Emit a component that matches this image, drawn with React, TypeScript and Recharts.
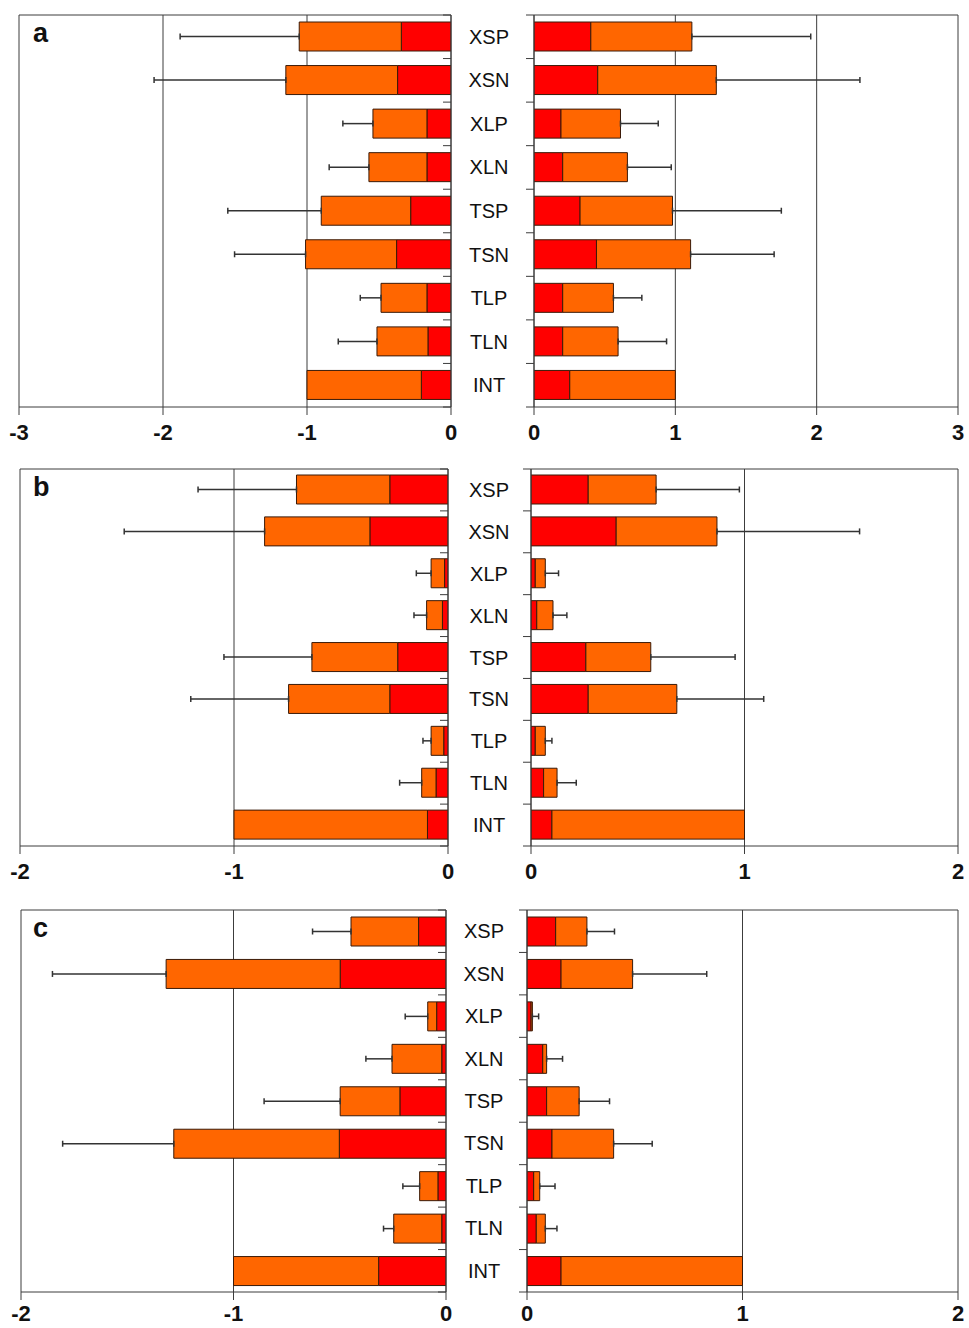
import React from 'react';
import { BarChart, Bar, XAxis, YAxis, CartesianGrid, ErrorBar } from 'recharts';

const categories = ['XSP', 'XSN', 'XLP', 'XLN', 'TSP', 'TSN', 'TLP', 'TLN', 'INT'];

// panel a
const aLeftInner = [0.345, 0.371, 0.167, 0.167, 0.28, 0.378, 0.167, 0.16, 0.206];
const aLeftTotal = [1.054, 1.147, 0.542, 0.57, 0.901, 1.01, 0.486, 0.514, 1.0];
const aLeftError = [1.881, 2.062, 0.751, 0.846, 1.55, 1.503, 0.63, 0.783, null];
const aRightInner = [0.402, 0.451, 0.191, 0.203, 0.326, 0.442, 0.203, 0.203, 0.253];
const aRightTotal = [1.117, 1.29, 0.612, 0.661, 0.98, 1.108, 0.562, 0.595, 1.0];
const aRightError = [1.958, 2.306, 0.879, 0.971, 1.75, 1.699, 0.763, 0.938, null];

// panel b
const bLeftInner = [0.272, 0.365, 0.016, 0.026, 0.235, 0.272, 0.02, 0.056, 0.096];
const bLeftTotal = [0.708, 0.857, 0.079, 0.1, 0.636, 0.745, 0.079, 0.123, 1.0];
const bLeftError = [1.168, 1.513, 0.148, 0.159, 1.047, 1.202, 0.117, 0.226, null];
const bRightInner = [0.268, 0.399, 0.02, 0.027, 0.257, 0.268, 0.02, 0.059, 0.098];
const bRightTotal = [0.586, 0.871, 0.067, 0.103, 0.561, 0.683, 0.067, 0.122, 1.0];
const bRightError = [0.976, 1.539, 0.129, 0.168, 0.956, 1.09, 0.098, 0.212, null];

// panel c
const cLeftInner = [0.129, 0.498, 0.044, 0.02, 0.217, 0.502, 0.038, 0.02, 0.317];
const cLeftTotal = [0.447, 1.317, 0.086, 0.254, 0.498, 1.281, 0.124, 0.246, 1.0];
const cLeftError = [0.628, 1.852, 0.192, 0.377, 0.856, 1.804, 0.203, 0.294, null];
const cRightInner = [0.133, 0.158, 0.019, 0.073, 0.091, 0.116, 0.031, 0.043, 0.158];
const cRightTotal = [0.278, 0.49, 0.025, 0.091, 0.242, 0.402, 0.059, 0.085, 1.0];
const cRightError = [0.406, 0.834, 0.054, 0.165, 0.383, 0.581, 0.13, 0.139, null];

const ticks3Left = [-3, -2, -1, 0];
const ticks3Right = [0, 1, 2, 3];
const ticks2Left = [-2, -1, 0];
const ticks2Right = [0, 1, 2];

const RED = '#ff0000';
const ORANGE = '#ff6600';
const EDGE = '#3a1a08';
const AXIS = '#3c3c3c';
const FONT = 'Arial, "Liberation Sans", sans-serif';

type Row = { name: string; inner: number; outer: number; err: number[] | null };

const buildRows = (
  inner: number[],
  total: number[],
  err: (number | null)[],
  sign: number
): Row[] =>
  categories.map((name, i) => {
    const e = err[i];
    let errVal: number[] | null = null;
    if (e != null) errVal = sign < 0 ? [e - total[i], 0] : [0, e - total[i]];
    return {
      name,
      inner: sign * inner[i],
      outer: sign * (total[i] - inner[i]),
      err: errVal,
    };
  });

const BandTick = (props: any) => {
  const { x, y, index, payload, band, labelShift } = props;
  const half = band / 2;
  return (
    <g>
      <line x1={x - 8} x2={x} y1={y - half} y2={y - half} stroke={AXIS} strokeWidth={1} />
      {index === categories.length - 1 && (
        <line x1={x - 8} x2={x} y1={y + half} y2={y + half} stroke={AXIS} strokeWidth={1} />
      )}
      {labelShift != null && (
        <text
          x={x + labelShift}
          y={y}
          textAnchor="middle"
          dominantBaseline="central"
          fontFamily={FONT}
          fontSize={20}
          fill="#111"
        >
          {payload.value}
        </text>
      )}
    </g>
  );
};

interface HalfProps {
  rows: Row[];
  side: 'left' | 'right';
  ticks: number[];
  left: number;
  width: number;
  height: number;
  margin: { top: number; right: number; bottom: number; left: number };
  axisWidth: number;
  band: number;
  tickGap: number;
  labelShift?: number;
}

const Half: React.FC<HalfProps> = ({ rows, side, ticks, left, width, height, margin, axisWidth, band, tickGap, labelShift }) => {
  const domain = [ticks[0], ticks[ticks.length - 1]];
  return (
    <div style={{ position: 'absolute', left, top: 0 }}>
      <BarChart width={width} height={height} data={rows} layout="vertical" margin={margin} barSize={29}>
        <CartesianGrid
          stroke={AXIS}
          strokeWidth={1}
          horizontalCoordinatesGenerator={(p: any) => [p.offset.top]}
        />
        <XAxis
          type="number"
          domain={domain}
          ticks={ticks}
          allowDataOverflow
          height={30}
          tickSize={8}
          tickMargin={tickGap}
          axisLine={{ stroke: AXIS }}
          tickLine={{ stroke: AXIS }}
          tick={{ fontFamily: FONT, fontSize: 22, fontWeight: 'bold', fill: '#111' }}
        />
        <YAxis
          type="category"
          dataKey="name"
          orientation={side === 'left' ? 'right' : 'left'}
          width={axisWidth}
          interval={0}
          tickSize={0}
          tickMargin={0}
          tickLine={false}
          axisLine={{ stroke: AXIS }}
          tick={(p: any) => <BandTick {...p} band={band} labelShift={labelShift} />}
        />
        <Bar dataKey="inner" stackId="s" fill={RED} stroke={EDGE} strokeWidth={1} isAnimationActive={false} />
        <Bar dataKey="outer" stackId="s" fill={ORANGE} stroke={EDGE} strokeWidth={1} isAnimationActive={false}>
          <ErrorBar dataKey="err" direction="x" width={3} stroke="#333" strokeWidth={1.5} />
        </Bar>
      </BarChart>
    </div>
  );
};

interface PanelProps {
  letter: string;
  top: number;
  height: number;
  leftRows: Row[];
  rightRows: Row[];
  leftTicks: number[];
  rightTicks: number[];
  plotTop: number;
  plotBottom: number;
  leftPlot: [number, number];
  rightPlot: [number, number];
  labelCenter: number;
  tickGap: number;
}

const Panel: React.FC<PanelProps> = ({
  letter, top, height, leftRows, rightRows, leftTicks, rightTicks, plotTop, plotBottom, leftPlot, rightPlot, labelCenter, tickGap,
}) => {
  const band = (plotBottom - plotTop) / categories.length;
  const bottom = height - plotBottom - 30;
  const leftW = 470;
  const rightLeft = 440;
  const rightW = 969 - rightLeft;
  return (
    <div style={{ position: 'absolute', left: 0, top, width: 969, height }}>
      <Half
        rows={leftRows}
        side="left"
        ticks={leftTicks}
        left={0}
        width={leftW}
        height={height}
        axisWidth={10}
        band={band}
        tickGap={tickGap}
        margin={{ top: plotTop, bottom, left: leftPlot[0], right: leftW - leftPlot[1] - 10 }}
      />
      <Half
        rows={rightRows}
        side="right"
        ticks={rightTicks}
        left={rightLeft}
        width={rightW}
        height={height}
        axisWidth={rightPlot[0] - rightLeft}
        band={band}
        tickGap={tickGap}
        labelShift={labelCenter - rightPlot[0]}
        margin={{ top: plotTop, bottom, left: 0, right: 969 - rightPlot[1] }}
      />
      <div
        style={{
          position: 'absolute',
          left: 33,
          top: plotTop + 5,
          fontFamily: FONT,
          fontWeight: 'bold',
          fontSize: 27,
          lineHeight: 1,
          color: '#111',
        }}
      >
        {letter}
      </div>
    </div>
  );
};

export default function App() {
  return (
    <div style={{ position: 'absolute', left: 0, top: 0, width: 969, height: 1328, background: '#fff' }}>
      <Panel
        letter="a"
        top={0}
        height={445}
        leftRows={buildRows(aLeftInner, aLeftTotal, aLeftError, -1)}
        rightRows={buildRows(aRightInner, aRightTotal, aRightError, 1)}
        leftTicks={ticks3Left}
        rightTicks={ticks3Right}
        plotTop={15}
        plotBottom={407}
        leftPlot={[19, 451]}
        rightPlot={[534, 958]}
        labelCenter={489}
        tickGap={9}
      />
      <Panel
        letter="b"
        top={455}
        height={440}
        leftRows={buildRows(bLeftInner, bLeftTotal, bLeftError, -1)}
        rightRows={buildRows(bRightInner, bRightTotal, bRightError, 1)}
        leftTicks={ticks2Left}
        rightTicks={ticks2Right}
        plotTop={14}
        plotBottom={391}
        leftPlot={[20, 448]}
        rightPlot={[531, 958]}
        labelCenter={489}
        tickGap={9}
      />
      <Panel
        letter="c"
        top={895}
        height={433}
        leftRows={buildRows(cLeftInner, cLeftTotal, cLeftError, -1)}
        rightRows={buildRows(cRightInner, cRightTotal, cRightError, 1)}
        leftTicks={ticks2Left}
        rightTicks={ticks2Right}
        plotTop={15}
        plotBottom={397}
        leftPlot={[21, 446]}
        rightPlot={[527, 958]}
        labelCenter={484}
        tickGap={5}
      />
    </div>
  );
}
